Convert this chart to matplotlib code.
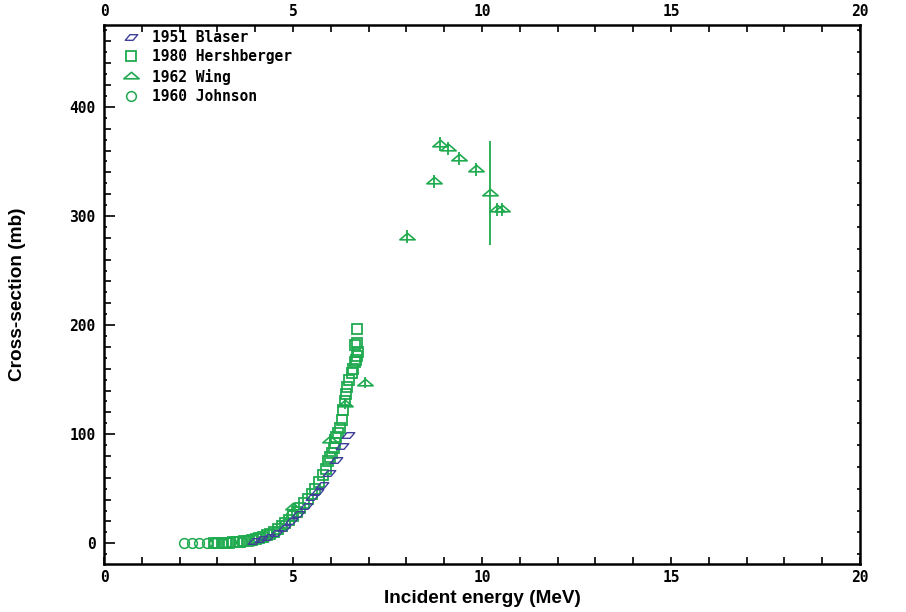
import numpy as np
import matplotlib
matplotlib.use("Agg")
import matplotlib.pyplot as plt
from matplotlib.path import Path
from matplotlib.lines import Line2D

# data (MeV, mb)
blaser_e = [3.96, 4.16, 4.35, 4.55, 4.75, 4.95, 5.14, 5.34, 5.49, 5.64, 5.76, 5.94, 6.15, 6.29, 6.46]
blaser_s = [2, 4, 6, 9, 14, 20, 27, 34, 42, 47, 53, 64, 76, 89, 99]

hersh_e = [2.92, 3.02, 3.12, 3.22, 3.31, 3.41, 3.51, 3.61, 3.71, 3.81, 3.91, 4.01, 4.11,
           4.2, 4.3, 4.4, 4.5, 4.6, 4.7, 4.8, 4.9, 5.0, 5.1, 5.19, 5.29, 5.39,
           5.49, 5.59, 5.69, 5.79, 5.86, 5.93, 5.99, 6.03, 6.08, 6.12, 6.15, 6.2, 6.24,
           6.29, 6.32, 6.37, 6.39, 6.42, 6.48, 6.55, 6.59, 6.64, 6.69, 6.72, 6.63, 6.68,
           6.67, 6.7]
hersh_s = [0.3, 0.3, 0.4, 0.5, 0.6, 0.8, 1.0, 1.3, 1.7, 2.2, 2.8, 3.6, 4.6,
           5.8, 7.2, 8.9, 10.8, 13, 15.5, 18.3, 21.4, 24.8, 28.5, 32.6, 37, 41,
           45, 50, 56, 63, 68, 75, 79, 83, 87, 92, 97, 101, 106,
           113, 122, 130, 137, 143, 150, 156, 160, 166, 172, 175, 182, 184,
           168, 196]

wing_e = [5.0, 5.98, 6.38, 6.91, 8.01, 8.72, 8.88, 9.11, 9.39, 9.83, 10.21, 10.39, 10.52]
wing_s = [33, 95, 128, 147, 281, 332, 366, 362, 353, 343, 321, 306, 306]
wing_err = [4, 5, 5, 5, 6, 6, 6, 6, 6, 6, 48, 6, 6]

johnson_e = [2.12, 2.32, 2.51, 2.72, 2.92, 3.12, 3.36, 3.66, 3.96, 4.25, 4.55, 4.8, 4.95]
johnson_s = [0, 0, 0, 0, 0.2, 0.4, 0.8, 1.5, 3, 6, 11, 18, 26]

green = "#1faa4f"
blue = "#40409a"

para = Path([(-1.0, -0.45), (0.25, -0.45), (1.0, 0.45), (-0.25, 0.45), (-1.0, -0.45)],
            [Path.MOVETO, Path.LINETO, Path.LINETO, Path.LINETO, Path.CLOSEPOLY])
tri = Path([(-1.0, -0.3), (1.0, -0.3), (0.0, 0.55), (-1.0, -0.3)],
           [Path.MOVETO, Path.LINETO, Path.LINETO, Path.CLOSEPOLY])

fig = plt.figure(figsize=(9.06, 6.12), dpi=100)
ax = fig.add_axes([0.1148, 0.0784, 0.8344, 0.8807])

ax.plot(blaser_e, blaser_s, linestyle="none", marker=para, ms=9, mfc="none",
        mec=blue, mew=1.0, zorder=4)
ax.plot(hersh_e, hersh_s, linestyle="none", marker="s", ms=7.3, mfc="none",
        mec=green, mew=1.3, zorder=3)
ax.errorbar(wing_e, wing_s, yerr=wing_err, linestyle="none", marker=tri, ms=11,
            mfc="none", mec=green, mew=1.2, ecolor=green, elinewidth=1.3,
            capsize=0, zorder=3)
ax.plot(johnson_e, johnson_s, linestyle="none", marker="o", ms=7, mfc="none",
        mec=green, mew=1.1, zorder=3)

ax.set_xlim(0, 20)
ax.set_ylim(-19, 475)
ax.set_xticks([0, 5, 10, 15, 20])
ax.set_xticks(np.arange(0, 21, 1), minor=True)
ax.set_yticks([0, 100, 200, 300, 400])
ax.set_yticks(np.arange(0, 475, 20), minor=True)

tick_font = {"family": "DejaVu Sans Mono", "weight": "bold", "size": 10.5}
ax.tick_params(which="both", direction="in", top=True, right=True,
               labeltop=True, labelright=True, width=1.2, color="black")
ax.tick_params(axis="x", which="both", length=5, pad=4)
ax.tick_params(axis="y", which="major", length=8, pad=6)
ax.tick_params(axis="y", which="minor", length=5)
for t in ax.xaxis.get_major_ticks() + ax.yaxis.get_major_ticks():
    t.label1.set_fontproperties(tick_font)
    t.label2.set_fontproperties(tick_font)

# small ticks at odd tens
ax3 = ax.twinx()
ax3.set_ylim(ax.get_ylim())
ax3.set_yticks(np.arange(-10, 475, 20))
ax3.tick_params(axis="y", direction="in", left=True, right=True, length=2.5,
                width=1.2, labelleft=False, labelright=False)
for s in ax3.spines.values():
    s.set_visible(False)

for s in ax.spines.values():
    s.set_linewidth(1.8)

ax.set_xlabel("Incident energy (MeV)", fontfamily="Liberation Sans",
              fontweight="bold", fontsize=13.7, labelpad=4)
ax.set_ylabel("Cross-section (mb)", fontfamily="Liberation Sans",
              fontweight="bold", fontsize=13.7, labelpad=31)

handles = [
    Line2D([], [], linestyle="none", marker=para, ms=9, mfc="none", mec=blue, mew=1.0),
    Line2D([], [], linestyle="none", marker="s", ms=7, mfc="none", mec=green, mew=1.3),
    Line2D([], [], linestyle="none", marker=tri, ms=11, mfc="none", mec=green, mew=1.2),
    Line2D([], [], linestyle="none", marker="o", ms=7, mfc="none", mec=green, mew=1.1),
]
labels = ["1951 Blaser", "1980 Hershberger", "1962 Wing", "1960 Johnson"]
ax.legend(handles, labels, loc="upper left", frameon=False, handlelength=1.2,
          handletextpad=0.8, labelspacing=0.3, borderaxespad=0.0,
          bbox_to_anchor=(0.017, 1.002),
          prop={"family": "DejaVu Sans Mono", "weight": "bold", "size": 10.5})

fig.savefig("out.png", dpi=100)
